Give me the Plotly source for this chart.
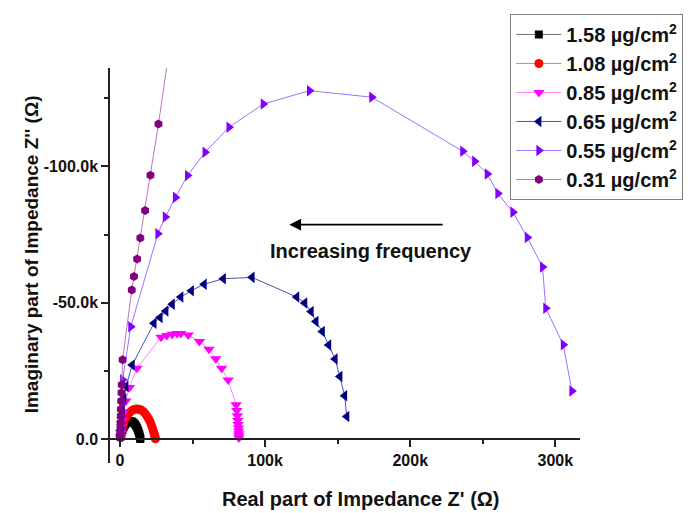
import plotly.graph_objects as go

# Nyquist data: real part Z' and imaginary part Z'' in kOhm (Z'' negative)
zr_158 = [0.5, 1.0, 1.7, 2.5, 3.5, 4.6, 5.8, 7.0, 8.2, 9.3, 10.3, 11.2, 11.9, 12.5, 13.0, 13.4, 13.7, 13.9, 14.0]
zi_158 = [-1.0, -2.2, -3.4, -4.4, -5.3, -6.0, -6.4, -6.6, -6.5, -6.1, -5.5, -4.8, -4.0, -3.2, -2.4, -1.6, -0.9, -0.4, -0.1]

zr_108 = [0.5, 1.0, 1.7, 2.6, 3.7, 5.0, 6.4, 8.0, 9.6, 11.3, 13.0, 14.6, 16.1, 17.5, 18.8, 19.9, 20.9, 21.7, 22.4, 23.0, 23.5, 23.9, 24.2, 24.4]
zi_108 = [-1.5, -3.0, -4.6, -6.1, -7.5, -8.7, -9.7, -10.4, -10.9, -11.1, -11.0, -10.7, -10.1, -9.3, -8.3, -7.3, -6.2, -5.1, -4.0, -3.0, -2.1, -1.3, -0.6, -0.2]

zr_085 = [0.2, 0.5, 0.9, 1.5, 2.5, 4.0, 6.5, 11.7, 28.3, 32.2, 36.0, 39.3, 41.9, 47.0, 54.7, 61.3, 66.0, 70.0, 74.5, 80.0,
          80.5, 80.9, 81.2, 81.4, 81.6, 81.7, 81.8, 81.9, 81.9]
zi_085 = [-1.0, -2.5, -4.5, -7.0, -10.0, -14.0, -19.0, -26.0, -37.4, -38.0, -38.5, -38.7, -38.7, -38.2, -35.8, -33.0, -29.5, -26.0, -21.7, -12.6,
          -10.5, -8.6, -6.9, -5.4, -4.1, -3.0, -2.0, -1.2, -0.5]

zr_065 = [0.2, 0.4, 0.8, 1.6, 2.6, 4.1, 8.4, 23.4, 27.6, 31.6, 36.0, 41.9, 49.2, 58.0, 71.2, 91.0,
          121.8, 127.3, 131.7, 135.0, 139.4, 143.8, 148.2, 151.5, 154.8, 156.3]
zi_065 = [-1.0, -3.4, -6.5, -10.8, -14.8, -19.3, -27.2, -42.5, -44.6, -47.0, -49.5, -52.1, -54.4, -56.8, -58.8, -59.3,
          -52.1, -49.9, -46.8, -43.1, -39.5, -34.5, -29.4, -23.0, -15.9, -8.3]

zr_055 = [0.2, 0.5, 0.9, 1.3, 1.8, 7.4, 26.1, 31.2, 38.2, 46.5, 58.6, 75.1, 98.7, 130.6, 173.5,
          236.2, 244.4, 253.1, 260.4, 270.8, 280.7, 291.2, 293.4, 305.5, 311.4]
zi_055 = [-1.5, -4.0, -8.0, -13.0, -21.8, -41.2, -75.3, -81.4, -88.6, -96.6, -105.1, -114.3, -122.8, -127.7, -125.3,
          -105.5, -101.8, -97.2, -90.0, -83.2, -73.9, -63.1, -48.0, -34.6, -17.7]

zr_031 = [0.1, 0.2, 0.3, 0.4, 0.5, 0.6, 0.8, 1.0, 1.2, 1.8, 8.1, 9.6, 11.8, 14.0, 17.3, 21.0, 26.5, 40.0]
zi_031 = [-0.5, -2.0, -4.0, -6.0, -8.5, -11.0, -14.0, -17.0, -20.0, -29.1, -54.7, -59.6, -66.0, -73.7, -83.8, -96.7, -115.5, -165.0]

series = [
    ("1.58 µg/cm<sup>2</sup>", zr_158, zi_158, "square", 8, "#000000", "#707070"),
    ("1.08 µg/cm<sup>2</sup>", zr_108, zi_108, "circle", 9, "#FF0000", "#FF7070"),
    ("0.85 µg/cm<sup>2</sup>", zr_085, zi_085, "triangle-down", 10, "#FF00FF", "#FF80FF"),
    ("0.65 µg/cm<sup>2</sup>", zr_065, zi_065, "triangle-left", 10, "#000080", "#5050A8"),
    ("0.55 µg/cm<sup>2</sup>", zr_055, zi_055, "triangle-right", 10, "#8000FF", "#A070FF"),
    ("0.31 µg/cm<sup>2</sup>", zr_031, zi_031, "hexagon", 9, "#800080", "#B878B8"),
]

x_ticks = [0, 100, 200, 300]
x_ticktext = ["0", "100k", "200k", "300k"]
x_minor = [50, 150, 250]
y_ticks = [0, -50, -100]
y_ticktext = ["0.0", "-50.0k", "-100.0k"]
y_minor = [-25, -75, -125]

FONT = "Liberation Sans, Arial, sans-serif"
AXIS_COLOR = "#222222"

fig = go.Figure()
for name, xs, ys, sym, size, mcol, lcol in series:
    fig.add_trace(go.Scatter(
        x=[v * 1000 for v in xs], y=[v * 1000 for v in ys],
        mode="lines+markers", name=name,
        line=dict(color=lcol, width=1),
        marker=dict(symbol=sym, size=size, color=mcol, line=dict(width=0)),
    ))

axis_common = dict(
    showgrid=False, zeroline=False, showline=True,
    linecolor=AXIS_COLOR, linewidth=1.5,
    ticks="outside", ticklen=7, tickwidth=1.5, tickcolor=AXIS_COLOR,
    tickfont=dict(family=FONT, size=16, color="#111", weight="bold"),
    tickmode="array",
)

fig.update_xaxes(
    **axis_common,
    range=[-6900, 317000],
    tickvals=[v * 1000 for v in x_ticks], ticktext=x_ticktext,
    minor=dict(tickmode="array", tickvals=[v * 1000 for v in x_minor], ticks="outside",
               ticklen=4, tickwidth=1.5, tickcolor=AXIS_COLOR, showgrid=False),
    anchor="free", position=0.060,
)
fig.update_yaxes(
    **axis_common,
    range=[8700, -136000],
    tickvals=[v * 1000 for v in y_ticks], ticktext=y_ticktext,
    minor=dict(tickmode="array", tickvals=[v * 1000 for v in y_minor], ticks="outside",
               ticklen=4, tickwidth=1.5, tickcolor=AXIS_COLOR, showgrid=False),
)

# frequency-direction arrow and axis titles
fig.add_annotation(
    x=116700, y=-78600, ax=223400, ay=-78600, axref="x", ayref="y", xref="x", yref="y",
    text="", showarrow=True, arrowhead=2, arrowsize=1.3, arrowwidth=1.8, arrowcolor="#000",
)
fig.add_annotation(
    x=173300, y=-68800, xref="x", yref="y", text="Increasing frequency", showarrow=False,
    xanchor="center", yanchor="middle",
    font=dict(family=FONT, size=20, color="#111", weight="bold"),
)
fig.add_annotation(
    x=28, y=254, xref="paper", yref="paper", text="Imaginary part of Impedance Z'' (Ω)",
    showarrow=False, textangle=-90, xanchor="center", yanchor="middle",
    font=dict(family=FONT, size=19, color="#111", weight="bold"),
)
fig.add_annotation(
    x=372, y=499, xref="paper", yref="paper", text="Real part of Impedance Z' (Ω)",
    showarrow=False, xanchor="center", yanchor="middle",
    font=dict(family=FONT, size=20, color="#111", weight="bold"),
)

W, H = 695, 513
L, R, T, B = 110, 94.3, 68.3, 50
pw, ph = W - L - R, H - T - B
# convert the two title annotations from pixel to paper coordinates
for ann in fig.layout.annotations[2:]:
    ann.x = (ann.x - L) / pw
    ann.y = (H - B - ann.y) / ph

fig.update_layout(
    width=W, height=H,
    margin=dict(l=L, r=R, t=T, b=B, pad=0),
    plot_bgcolor="white", paper_bgcolor="white",
    showlegend=True,
    legend=dict(
        x=(528 - L) / pw, y=(H - B - 14.3) / ph, xanchor="left", yanchor="top",
        bgcolor="white", bordercolor="#808080", borderwidth=1,
        font=dict(family=FONT, size=20, color="#111", weight="bold"),
        itemwidth=45, tracegroupgap=0,
    ),
)

fig.write_html("out.html")
